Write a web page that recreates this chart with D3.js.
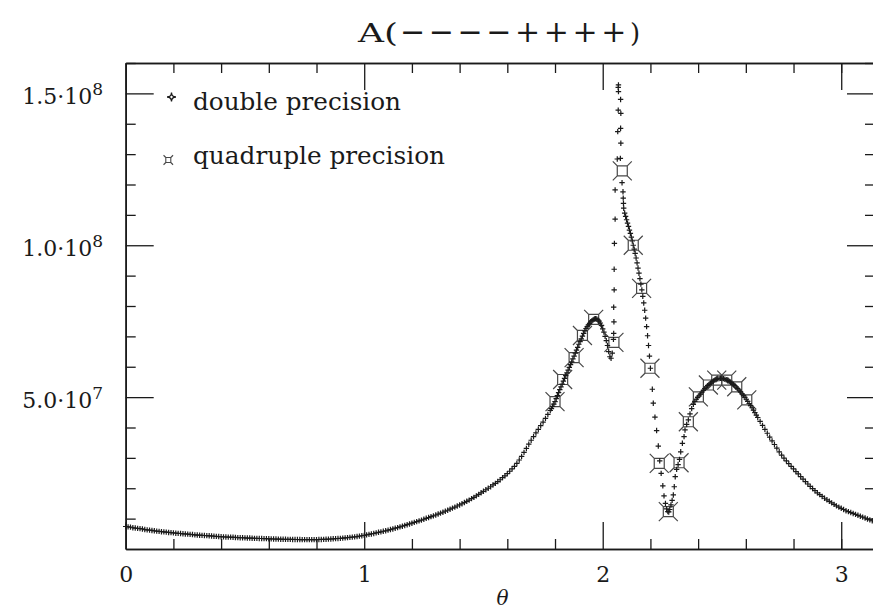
<!DOCTYPE html>
<html>
<head>
<meta charset="utf-8">
<script src="https://cdn.jsdelivr.net/npm/d3@7"></script>
<style>
  body { margin: 0; background: #fff; }
  svg { display: block; }
</style>
</head>
<body>
<script>
/* DATA (values in units of 1e7) */

var titleHead = 'A(';
var titleSigns = '\u2212\u2212\u2212\u2212++++';
var titleTail = ')';
var xLabel = '\u03b8';
var legendLabels = ['double precision', 'quadruple precision'];

var xMajorTicks = [0, 1, 2, 3];
var xMinorTicks = [0.2, 0.4, 0.6, 0.8, 1.2, 1.4, 1.6, 1.8, 2.2, 2.4, 2.6, 2.8, 3.0];
var yMajorTicks = [5, 10, 15];
var yMinorTicks = [1, 2, 3, 4, 6, 7, 8, 9, 11, 12, 13, 14, 16];
var yTickMantissa = ['5.0\u00b710', '1.0\u00b710', '1.5\u00b710'];
var yTickExponent = ['7', '8', '8'];

// double precision, [theta, value]
var dblRise = [
  [0,.74],[.01,.73],[.02,.72],[.03,.70],[.04,.69],[.05,.68],[.06,.67],[.07,.66],[.08,.64],[.09,.63],
  [.10,.62],[.11,.61],[.12,.60],[.13,.59],[.14,.58],[.15,.57],[.16,.565],[.17,.555],[.18,.545],[.19,.54],
  [.20,.53],[.21,.52],[.22,.515],[.23,.51],[.24,.50],[.25,.495],[.26,.49],[.27,.48],[.28,.475],[.29,.465],
  [.30,.46],[.31,.455],[.32,.45],[.33,.445],[.34,.44],[.35,.435],[.36,.43],[.37,.42],[.38,.415],[.39,.41],
  [.40,.405],[.41,.40],[.42,.395],[.43,.39],[.44,.39],[.45,.385],[.46,.38],[.47,.375],[.48,.37],[.49,.37],
  [.50,.365],[.51,.36],[.52,.36],[.53,.355],[.54,.35],[.55,.35],[.56,.345],[.57,.345],[.58,.34],[.59,.34],
  [.60,.335],[.61,.333],[.62,.33],[.63,.328],[.64,.325],[.65,.323],[.66,.32],[.67,.32],[.68,.318],[.69,.316],
  [.70,.315],[.71,.313],[.72,.312],[.73,.311],[.74,.31],[.75,.31],[.76,.31],[.77,.31],[.78,.31],[.79,.31],
  [.80,.31],[.81,.312],[.82,.315],[.83,.318],[.84,.32],[.85,.325],[.86,.33],[.87,.335],[.88,.34],[.89,.345],
  [.90,.35],[.91,.357],[.92,.365],[.93,.373],[.94,.382],[.95,.39],[.96,.40],[.97,.41],[.98,.425],[.99,.437],
  [1.00,.45],[1.01,.465],[1.02,.48],[1.03,.495],[1.04,.51],[1.05,.53],[1.06,.55],[1.07,.565],[1.08,.585],[1.09,.60],
  [1.10,.62],[1.11,.64],[1.12,.66],[1.13,.685],[1.14,.705],[1.15,.73],[1.16,.75],[1.17,.775],[1.18,.80],[1.19,.825],
  [1.20,.85],[1.21,.875],[1.22,.90],[1.23,.925],[1.24,.95],[1.25,.98],[1.26,1.01],[1.27,1.035],[1.28,1.065],[1.29,1.09],
  [1.30,1.12],[1.31,1.15],[1.32,1.18],[1.33,1.21],[1.34,1.245],[1.35,1.275],[1.36,1.31],[1.37,1.345],[1.38,1.38],[1.39,1.415],
  [1.40,1.45],[1.41,1.49],[1.42,1.53],[1.43,1.57],[1.44,1.61],[1.45,1.66],[1.46,1.70],[1.47,1.75],[1.48,1.80],[1.49,1.85],
  [1.50,1.90],[1.51,1.95],[1.52,2.00],[1.53,2.05],[1.54,2.11],[1.55,2.16],[1.56,2.22],[1.57,2.28],[1.58,2.35],[1.59,2.41],
  [1.60,2.48],[1.61,2.56],[1.62,2.64],[1.63,2.72],[1.64,2.82],[1.65,2.93],[1.66,3.05],[1.67,3.18],[1.68,3.31],[1.69,3.45],
  [1.70,3.58],[1.71,3.70],[1.72,3.82],[1.73,3.94],[1.74,4.06],[1.75,4.18],[1.76,4.30],[1.77,4.43],[1.78,4.56]
];
var dblHump = [
  [1.785,4.62],[1.790,4.70],[1.795,4.77],[1.800,4.85],[1.805,4.95],[1.810,5.05],[1.815,5.15],[1.820,5.25],
  [1.825,5.34],[1.830,5.43],[1.835,5.53],[1.840,5.62],[1.845,5.71],[1.850,5.80],[1.855,5.89],[1.860,5.98],
  [1.865,6.07],[1.870,6.16],[1.875,6.26],[1.880,6.35],[1.885,6.45],[1.890,6.55],[1.895,6.64],[1.900,6.74],
  [1.905,6.83],[1.910,6.92],[1.915,7.01],[1.920,7.10],[1.925,7.18],[1.930,7.26],[1.935,7.32],[1.940,7.38],
  [1.945,7.43],[1.950,7.48],[1.955,7.52],[1.960,7.55],[1.965,7.57],[1.970,7.58],[1.975,7.57],[1.980,7.54],
  [1.985,7.50],[1.990,7.44],[1.995,7.36],[2.000,7.25],[2.005,7.14],[2.010,7.00],[2.015,6.86],[2.020,6.70],
  [2.025,6.50],[2.030,6.33],[2.035,6.28],[2.040,6.45]
];
var dblSpike = [
  [2.045,6.90],[2.046,7.10],[2.047,7.48],[2.046,7.96],[2.048,8.53],[2.048,9.21],[2.049,10.06],[2.052,10.86],
  [2.052,11.82],[2.061,12.84],[2.063,13.74],[2.065,14.45],[2.066,15.06],[2.065,15.20],[2.066,15.28],[2.075,14.80],
  [2.076,14.34],[2.075,13.85],[2.076,13.36],[2.074,12.86],[2.081,12.06],[2.085,11.76],[2.086,11.55],[2.087,11.38],
  [2.088,11.22]
];
var dblFall = [
  [2.092,11.06],[2.096,10.95],[2.100,10.84],[2.104,10.73],[2.108,10.62],[2.112,10.50],[2.116,10.39],
  [2.120,10.27],[2.124,10.14],[2.128,10.00],[2.132,9.87],[2.136,9.73],[2.140,9.58],[2.144,9.42],
  [2.148,9.25],[2.152,9.08],[2.156,8.90],[2.160,8.72],[2.164,8.53],[2.168,8.32],[2.172,8.10],
  [2.176,7.86],[2.180,7.60],[2.184,7.32],[2.188,7.02],[2.192,6.70],[2.196,6.35],[2.200,5.95]
];
var dblDip = [
  [2.208,5.26],[2.212,4.80],[2.219,4.34],[2.226,3.90],[2.233,3.39],[2.239,2.90],[2.245,2.49],[2.252,2.08],
  [2.257,1.75],[2.263,1.50],[2.268,1.32],[2.273,1.23],[2.277,1.22],[2.281,1.30],[2.286,1.45],[2.291,1.60],
  [2.296,1.78],[2.300,2.05],[2.304,2.38],[2.310,2.62],[2.316,2.78],[2.322,2.95],[2.327,3.20],[2.334,3.48],
  [2.341,3.70],[2.345,3.92],[2.352,4.10],[2.359,4.25],[2.366,4.45],[2.373,4.62],[2.380,4.76],[2.386,4.86],
  [2.392,4.93]
];
var dblPeak = [
  [2.398,4.99],[2.404,5.04],[2.410,5.10],[2.416,5.16],[2.422,5.22],[2.428,5.28],[2.434,5.33],[2.440,5.38],
  [2.446,5.42],[2.452,5.46],[2.458,5.50],[2.464,5.53],[2.470,5.56],[2.476,5.58],[2.482,5.60],[2.488,5.61],
  [2.494,5.62],[2.500,5.62],[2.506,5.61],[2.512,5.59],[2.518,5.57],[2.524,5.54],[2.530,5.51],[2.536,5.49],
  [2.542,5.46],[2.548,5.42],[2.554,5.38],[2.560,5.33],[2.566,5.28],[2.572,5.23],[2.578,5.17],[2.584,5.11],
  [2.590,5.05],[2.596,4.99],[2.602,4.93],[2.608,4.86],[2.614,4.79],[2.620,4.72],[2.626,4.65],[2.632,4.57],
  [2.638,4.49],[2.644,4.41]
];
var dblTail = [
  [2.65,4.33],[2.66,4.20],[2.67,4.07],[2.68,3.94],[2.69,3.81],[2.70,3.68],[2.71,3.56],[2.72,3.44],[2.73,3.32],[2.74,3.20],
  [2.75,3.09],[2.76,2.99],[2.77,2.90],[2.78,2.81],[2.79,2.72],[2.80,2.64],[2.81,2.55],[2.82,2.47],[2.83,2.38],[2.84,2.30],
  [2.85,2.22],[2.86,2.14],[2.87,2.06],[2.88,1.99],[2.89,1.92],[2.90,1.85],[2.91,1.79],[2.92,1.73],[2.93,1.67],[2.94,1.62],
  [2.95,1.57],[2.96,1.52],[2.97,1.47],[2.98,1.42],[2.99,1.38],[3.00,1.34],[3.01,1.30],[3.02,1.26],[3.03,1.23],[3.04,1.20],
  [3.05,1.17],[3.06,1.14],[3.07,1.11],[3.08,1.08],[3.09,1.05],[3.10,1.02],[3.11,0.99],[3.12,0.96],[3.13,0.93],[3.14,0.90]
];

// quadruple precision, [theta, value]
var quadPts = [
  [1.800,4.85],[1.832,5.58],[1.880,6.30],[1.915,7.03],[1.962,7.56],[2.047,6.80],[2.082,12.45],
  [2.128,10.00],[2.163,8.58],[2.198,5.95],[2.237,2.82],[2.275,1.23],[2.320,2.84],[2.359,4.19],
  [2.401,5.01],[2.443,5.40],[2.478,5.56],[2.520,5.56],[2.562,5.34],[2.604,4.91]
];

var doublePts = [].concat(dblRise, dblHump, dblSpike, dblFall, dblDip, dblPeak, dblTail);


/* SETUP */
var width = 873;
var height = 612;
var plotLeft = 125.7, plotRight = 875, plotTop = 63, plotBottom = 549;

var serif = "'DejaVu Serif', serif";
var ink = '#1a1a1a';
var quadColor = '#484848';

var x = d3.scaleLinear().domain([0, Math.PI]).range([plotLeft, plotRight]);
var y = d3.scaleLinear().domain([0, 16]).range([plotBottom, plotTop]);

var plusMarker = 'M-2.7,0H2.7M0,-2.7V2.7';
var quadMarker = 'M-5,-5H5V5H-5Z' +
  'M-5,-5L-9.5,-9.5M5,-5L9.5,-9.5M5,5L9.5,9.5M-5,5L-9.5,9.5';
var starMarker = 'M0,-4.5Q0,0 4.5,0Q0,0 0,4.5Q0,0 -4.5,0Q0,0 0,-4.5Z';


const svg = d3.select('body').append('svg')
    .attr('width', width)
    .attr('height', height);

svg.append('rect')
    .attr('width', width)
    .attr('height', height)
    .attr('fill', '#fff');

// style axis lines the same way everywhere
const styleAxis = g => {
  g.select('.domain').attr('stroke', ink).attr('stroke-width', 1.6);
  g.selectAll('.tick line').attr('stroke', ink).attr('stroke-width', 1.3);
};

/* AXES */
// bottom
svg.append('g')
    .attr('transform', `translate(0,${plotBottom})`)
    .call(d3.axisBottom(x).tickValues(xMinorTicks).tickSize(-10).tickSizeOuter(0).tickFormat(''))
    .call(styleAxis);

const xAxisG = svg.append('g')
    .attr('transform', `translate(0,${plotBottom})`)
    .call(d3.axisBottom(x).tickValues(xMajorTicks).tickSize(-27).tickSizeOuter(0)
        .tickPadding(17).tickFormat(d3.format('d')))
    .call(styleAxis);
xAxisG.selectAll('.tick text')
    .attr('font-family', serif)
    .attr('font-size', 22)
    .attr('fill', ink);

// top
svg.append('g')
    .attr('transform', `translate(0,${plotTop})`)
    .call(d3.axisTop(x).tickValues(xMinorTicks).tickSize(-10).tickSizeOuter(0).tickFormat(''))
    .call(styleAxis);
svg.append('g')
    .attr('transform', `translate(0,${plotTop})`)
    .call(d3.axisTop(x).tickValues(xMajorTicks).tickSize(-27).tickSizeOuter(0).tickFormat(''))
    .call(styleAxis);

// left
svg.append('g')
    .attr('transform', `translate(${plotLeft},0)`)
    .call(d3.axisLeft(y).tickValues(yMinorTicks).tickSize(-10).tickSizeOuter(0).tickFormat(''))
    .call(styleAxis);
const yAxisG = svg.append('g')
    .attr('transform', `translate(${plotLeft},0)`)
    .call(d3.axisLeft(y).tickValues(yMajorTicks).tickSize(-28).tickSizeOuter(0).tickPadding(22.7))
    .call(styleAxis);
// labels like 1.5·10^8
yAxisG.selectAll('.tick text').each(function(d, i) {
  const t = d3.select(this)
      .text(null)
      .attr('dy', '0.45em')
      .attr('font-family', serif)
      .attr('font-size', 22)
      .attr('fill', ink);
  t.append('tspan').text(yTickMantissa[i]);
  t.append('tspan').attr('dy', -8.5).attr('font-size', 17).text(yTickExponent[i]);
});

// right
svg.append('g')
    .attr('transform', `translate(${plotRight},0)`)
    .call(d3.axisRight(y).tickValues(yMinorTicks).tickSize(-10).tickSizeOuter(0).tickFormat(''))
    .call(styleAxis);
svg.append('g')
    .attr('transform', `translate(${plotRight},0)`)
    .call(d3.axisRight(y).tickValues(yMajorTicks).tickSize(-28).tickSizeOuter(0).tickFormat(''))
    .call(styleAxis);


/* DATA POINTS */
svg.append('g').attr('class', 'quad')
  .selectAll('path')
  .data(quadPts)
  .join('path')
    .attr('transform', d => `translate(${x(d[0])},${y(d[1])})`)
    .attr('d', quadMarker)
    .attr('fill', 'none')
    .attr('stroke', quadColor)
    .attr('stroke-width', 1.2);

svg.append('g').attr('class', 'double')
  .selectAll('path')
  .data(doublePts)
  .join('path')
    .attr('transform', d => `translate(${x(d[0])},${y(d[1])})`)
    .attr('d', plusMarker)
    .attr('fill', 'none')
    .attr('stroke', ink)
    .attr('stroke-width', 1.2);


/* TITLE, LABEL, LEGEND */
const titleG = svg.append('g')
    .attr('font-family', serif)
    .attr('fill', ink);
titleG.append('text')
    .attr('x', 358)
    .attr('y', 42)
    .attr('font-size', 26)
    .attr('textLength', 40)
    .attr('lengthAdjust', 'spacingAndGlyphs')
    .text(titleHead);
titleG.append('text')
    .attr('x', 400)
    .attr('y', 42)
    .attr('font-size', 30)
    .attr('letter-spacing', 3.6)
    .text(titleSigns);
titleG.append('text')
    .attr('x', 630)
    .attr('y', 42)
    .attr('font-size', 26)
    .text(titleTail);

svg.append('text')
    .attr('x', 502.5)
    .attr('y', 605)
    .attr('text-anchor', 'middle')
    .attr('font-family', serif)
    .attr('font-style', 'italic')
    .attr('font-size', 20)
    .attr('fill', ink)
    .text(xLabel);

const legend = svg.append('g').attr('class', 'legend');
legend.append('path')
    .attr('transform', 'translate(171.5,97)')
    .attr('d', starMarker)
    .attr('fill', 'none')
    .attr('stroke', ink)
    .attr('stroke-width', 1.3);
legend.append('path')
    .attr('transform', 'translate(168.3,160) scale(0.5)')
    .attr('d', quadMarker)
    .attr('fill', 'none')
    .attr('stroke', quadColor)
    .attr('stroke-width', 2.2);

legend.selectAll('text')
  .data(legendLabels)
  .join('text')
    .attr('x', 193)
    .attr('y', (d, i) => i === 0 ? 110 : 163.5)
    .attr('font-family', serif)
    .attr('font-size', 24)
    .attr('fill', ink)
    .attr('textLength', (d, i) => i === 0 ? 208 : 252)
    .attr('lengthAdjust', 'spacingAndGlyphs')
    .text(d => d);
</script>
</body>
</html>
